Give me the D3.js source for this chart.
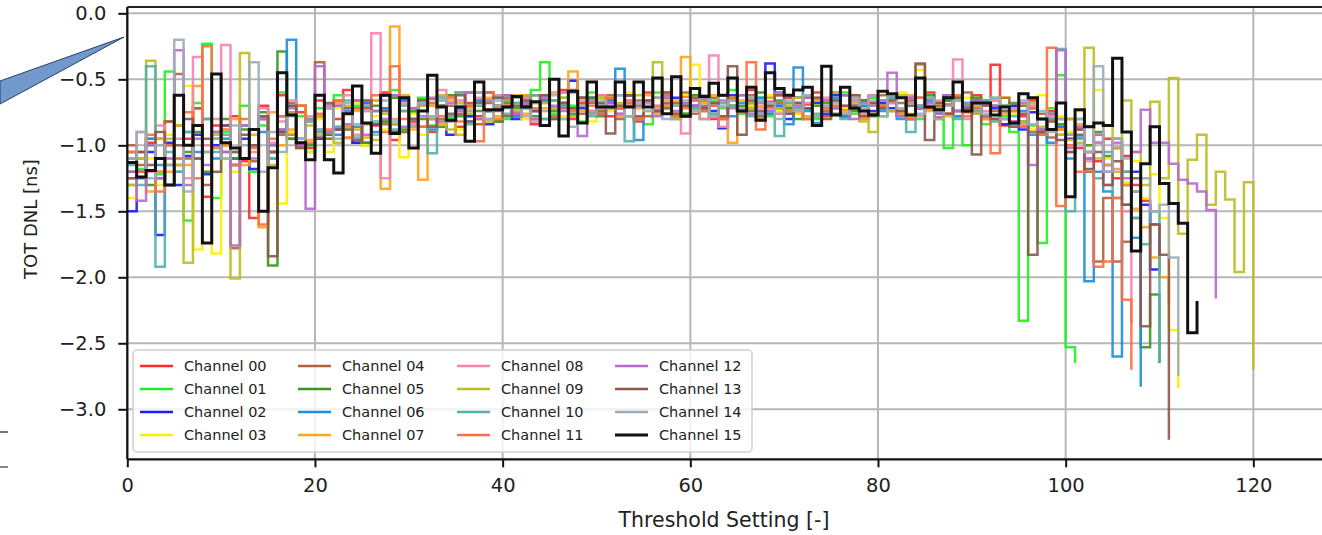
<!DOCTYPE html>
<html>
<head>
<meta charset="utf-8">
<script src="https://cdn.jsdelivr.net/npm/d3@7"></script>
<style>
  html, body { margin: 0; padding: 0; background: #fff; }
  svg { display: block; font-family: "DejaVu Sans", sans-serif; }
</style>
</head>
<body>
<svg id="chart" width="1322" height="535"></svg>
<script>
// TOT DNL per threshold setting, one array per channel (index = threshold setting)
const ch00 = [-1.05,-1.10,-0.98,-1.20,-0.82,-1.15,-0.95,-0.72,-1.39,-0.85,
  -1.00,-0.78,-1.12,-1.55,-0.70,-1.05,-0.62,-0.95,-0.75,-1.02,
  -0.66,-0.92,-0.80,-0.58,-0.98,-0.72,-0.85,-0.60,-0.96,-0.74,
  -0.82,-0.65,-0.90,-0.70,-0.62,-0.86,-0.68,-0.78,-0.60,-0.82,
  -0.70,-0.75,-0.62,-0.84,-0.66,-0.72,-0.58,-0.80,-0.68,-0.74,
  -0.62,-0.78,-0.70,-0.66,-0.82,-0.60,-0.74,-0.68,-0.76,-0.63,
  -0.72,-0.66,-0.80,-0.62,-0.70,-0.75,-0.58,-0.79,-0.67,-0.72,
  -0.64,-0.76,-0.69,-0.60,-0.78,-0.66,-0.73,-0.62,-0.80,-0.68,
  -0.70,-0.63,-0.77,-0.66,-0.72,-0.60,-0.79,-0.69,-0.64,-0.75,
  -0.62,-0.80,-0.39,-0.85,-0.70,-0.78,-0.66,-0.92,-0.74,-0.88,
  -0.80,-1.02,-0.86,-1.12,-0.95,-1.25,-1.08,-1.30,-1.42,-1.60,-1.74];
const ch01 = [-1.30,-1.18,-1.00,-1.22,-0.44,-1.10,-1.57,-0.68,-0.23,-1.40,
  -0.90,-1.05,-0.70,-1.20,-0.85,-1.00,-0.60,-0.92,-0.78,-1.05,
  -0.72,-0.95,-0.62,-0.88,-0.70,-1.00,-0.66,-0.82,-0.58,-0.90,
  -0.75,-0.64,-0.85,-0.70,-0.80,-0.60,-0.78,-0.66,-0.74,-0.62,
  -0.80,-0.68,-0.72,-0.58,-0.37,-0.76,-0.64,-0.70,-0.82,-0.60,
  -0.74,-0.66,-0.78,-0.62,-0.70,-0.84,-0.60,-0.72,-0.68,-0.76,
  -0.62,-0.80,-0.66,-0.72,-0.58,-0.76,-0.70,-0.64,-0.78,-0.60,
  -0.74,-0.68,-0.62,-0.80,-0.66,-0.72,-0.60,-0.76,-0.70,-0.64,
  -0.78,-0.62,-0.74,-0.68,-0.80,-0.64,-0.72,-1.02,-0.66,-1.00,
  -0.70,-0.84,-0.64,-0.78,-0.90,-2.33,-0.85,-1.74,-0.72,-0.47,
  -2.53,-2.65];
const ch02 = [-1.50,-1.20,-1.05,-1.68,-0.98,-1.30,-1.08,-0.92,-1.22,-1.00,
  -0.85,-1.10,-0.95,-1.18,-0.80,-1.05,-0.90,-0.75,-1.00,-0.82,
  -0.95,-0.70,-0.88,-0.76,-0.98,-0.68,-0.84,-0.72,-0.90,-0.66,
  -0.86,-0.70,-0.80,-0.64,-0.92,-0.72,-0.78,-0.60,-0.84,-0.70,
  -0.66,-0.80,-0.70,-0.74,-0.62,-0.78,-0.68,-0.51,-0.72,-0.64,
  -0.76,-0.68,-0.72,-0.62,-0.80,-0.66,-0.74,-0.70,-0.64,-0.78,
  -0.70,-0.66,-0.74,-0.87,-0.62,-0.72,-0.68,-0.76,-0.38,-0.70,
  -0.80,-0.64,-0.72,-0.68,-0.76,-0.62,-0.78,-0.70,-0.66,-0.74,
  -0.68,-0.72,-0.64,-0.80,-0.70,-0.66,-0.76,-0.62,-0.74,-0.70,
  -0.66,-0.78,-0.72,-0.84,-0.70,-0.88,-0.75,-0.92,-0.80,-0.86,
  -0.95,-0.88,-1.05,-0.98,-1.15,-1.02,-1.30,-1.20,-1.45,-1.94,-1.70];
const ch03 = [-1.40,-1.25,-1.10,-1.30,-0.92,-1.15,-0.55,-1.79,-0.80,-1.82,
  -0.95,-1.20,-0.85,-1.05,-0.78,-1.10,-1.44,-0.90,-0.70,-1.05,
  -0.80,-1.05,-0.72,-0.95,-0.68,-1.00,-0.78,-0.88,-0.64,-1.09,
  -0.76,-0.92,-0.70,-0.82,-0.62,-0.88,-0.74,-0.80,-0.66,-0.78,
  -0.70,-0.64,-0.80,-0.68,-0.74,-0.60,-0.78,-0.72,-0.66,-0.82,
  -0.64,-0.74,-0.70,-0.60,-0.80,-0.68,-0.72,-0.66,-0.76,-0.62,
  -0.39,-0.74,-0.68,-0.80,-0.64,-0.72,-0.70,-0.78,-0.62,-0.74,
  -0.68,-0.76,-0.64,-0.70,-0.80,-0.66,-0.72,-0.62,-0.78,-0.70,
  -0.66,-0.74,-0.60,-0.76,-0.43,-0.72,-0.70,-0.66,-0.78,-0.64,
  -0.74,-0.68,-0.80,-0.64,-0.76,-0.70,-0.88,-0.62,-0.82,-0.78,
  -0.90,-0.74,-1.00,-0.58,-1.10,-0.95,-1.28,-1.12,-1.40,-1.22,
  -1.55,-2.40,-2.84];
const ch04 = [-1.00,-1.15,-0.95,-1.25,-0.82,-0.46,-1.10,-0.72,-1.30,-0.90,
  -1.05,-1.78,-0.85,-1.12,-0.78,-1.05,-0.92,-0.68,-1.00,-0.80,
  -0.37,-0.95,-0.70,-0.88,-0.66,-0.98,-0.74,-0.84,-0.62,-0.90,
  -0.72,-0.86,-0.65,-0.80,-0.70,-0.76,-0.60,-0.84,-0.68,-0.74,
  -0.64,-0.78,-0.70,-0.62,-0.80,-0.66,-0.72,-0.58,-0.76,-0.68,
  -0.74,-0.62,-0.80,-0.70,-0.66,-0.78,-0.64,-0.72,-0.68,-0.60,
  -0.76,-0.70,-0.64,-0.80,-0.66,-0.74,-0.62,-0.78,-0.70,-0.68,
  -0.72,-0.64,-0.80,-0.66,-0.74,-0.60,-0.78,-0.70,-0.66,-0.76,
  -0.62,-0.74,-0.68,-0.80,-0.64,-0.72,-0.70,-0.66,-0.78,-0.60,
  -0.76,-0.68,-0.74,-0.64,-0.82,-0.70,-0.90,-0.76,-0.94,-0.80,
  -1.05,-0.88,-1.20,-1.88,-1.40,-1.88,-1.73,-1.55,-1.95];
const ch05 = [-1.20,-1.05,-1.30,-0.95,-1.15,-0.85,-1.05,-0.90,-1.20,-0.95,
  -0.80,-1.10,-0.88,-1.00,-0.75,-1.91,-0.29,-0.95,-0.70,-1.00,
  -0.78,-0.92,-0.66,-0.86,-0.72,-0.98,-0.70,-0.82,-0.64,-0.88,
  -0.74,-0.80,-0.68,-0.86,-0.62,-0.78,-0.70,-0.74,-0.60,-0.82,
  -0.68,-0.72,-0.64,-0.78,-0.66,-0.74,-0.60,-0.76,-0.70,-0.64,
  -0.78,-0.66,-0.72,-0.62,-0.80,-0.68,-0.74,-0.64,-0.70,-0.76,
  -0.62,-0.72,-0.68,-0.78,-0.64,-0.70,-0.74,-0.60,-0.76,-0.66,
  -0.72,-0.80,-0.64,-0.70,-0.68,-0.76,-0.62,-0.74,-0.66,-0.78,
  -0.70,-0.64,-0.76,-0.68,-0.72,-0.62,-0.80,-0.66,-0.74,-0.70,
  -0.64,-0.78,-0.70,-0.74,-0.68,-0.82,-0.72,-0.88,-0.76,-0.84,
  -0.92,-0.80,-1.00,-0.90,-1.08,-0.95,-1.20,-1.35,-2.53,-2.13,-2.65];
const ch06 = [-1.10,-1.25,-0.95,-1.15,-1.00,-1.20,-0.90,-1.05,-0.80,-1.10,
  -0.95,-1.15,-0.85,-1.00,-0.90,-1.10,-0.78,-0.20,-0.95,-0.82,
  -0.88,-0.70,-0.92,-0.74,-0.86,-0.68,-0.90,-0.72,-0.84,-0.66,
  -0.80,-0.70,-0.88,-0.64,-0.78,-0.72,-0.82,-0.66,-0.74,-0.70,
  -0.62,-0.78,-0.68,-0.74,-0.66,-0.80,-0.70,-0.72,-0.64,-0.76,
  -0.70,-0.66,-0.42,-0.78,-0.96,-0.68,-0.74,-0.62,-0.80,-0.70,
  -0.66,-0.74,-0.70,-0.62,-0.78,-0.68,-0.72,-0.64,-0.76,-0.70,
  -0.84,-0.41,-0.74,-0.83,-0.72,-0.64,-0.78,-0.66,-0.70,-0.62,
  -0.74,-0.68,-0.80,-0.64,-0.72,-0.70,-0.76,-0.62,-0.78,-0.68,
  -0.72,-0.66,-0.80,-0.70,-0.84,-0.74,-0.92,-0.80,-0.98,-0.86,
  -1.10,-0.94,-2.03,-1.20,-1.35,-2.60,-1.45,-1.70,-2.83];
const ch07 = [-1.25,-1.10,-1.35,-0.95,-1.20,-0.85,-1.15,-0.55,-1.05,-0.90,
  -1.00,-0.80,-1.15,-0.92,-1.62,-0.75,-1.00,-0.88,-0.70,-0.96,
  -0.78,-0.90,-0.68,-0.86,-0.74,-0.94,-0.66,-1.33,-0.10,-0.62,
  -0.88,-1.26,-0.70,-0.84,-0.66,-0.92,-0.72,-0.80,-0.64,-0.78,
  -0.70,-0.62,-0.76,-0.68,-0.72,-0.60,-0.80,-0.44,-0.74,-0.66,
  -0.70,-0.64,-0.78,-0.68,-0.72,-0.62,-0.76,-0.70,-0.66,-0.33,
  -0.74,-0.68,-0.62,-0.78,-0.98,-0.66,-0.72,-0.70,-0.64,-0.76,
  -0.68,-0.72,-0.62,-0.78,-0.66,-0.70,-0.74,-0.64,-0.80,-0.68,
  -0.72,-0.66,-0.76,-0.62,-0.70,-0.74,-0.68,-0.78,-0.64,-0.72,
  -0.70,-0.80,-0.66,-0.76,-0.72,-0.86,-0.70,-0.92,-0.78,-0.88,
  -0.96,-0.84,-1.05,-0.92,-1.15,-1.02,-1.30,-1.48,-1.62,-1.85,
  -2.00,-2.20];
const ch08 = [-1.05,-0.90,-1.20,-0.85,-1.10,-0.95,-1.25,-0.33,-1.00,-0.80,
  -0.24,-1.15,-0.85,-1.05,-0.72,-0.98,-0.82,-0.66,-0.95,-0.78,
  -0.90,-0.70,-0.86,-0.62,-0.92,-0.74,-0.15,-1.25,-0.80,-0.68,
  -0.84,-0.70,-0.78,-0.58,-0.82,-0.66,-0.74,-0.64,-0.80,-0.62,
  -0.70,-0.76,-0.64,-0.82,-0.68,-0.72,-0.60,-0.78,-0.66,-0.74,
  -0.62,-0.70,-0.76,-0.66,-0.80,-0.68,-0.72,-0.64,-0.78,-0.91,
  -0.66,-0.80,-0.32,-0.86,-0.70,-0.74,-0.64,-0.72,-0.68,-0.76,
  -0.62,-0.74,-0.68,-0.78,-0.64,-0.72,-0.70,-0.66,-0.76,-0.62,
  -0.72,-0.68,-0.74,-0.64,-0.78,-0.70,-0.66,-0.76,-0.35,-0.80,
  -0.68,-0.74,-0.66,-0.80,-0.72,-0.84,-0.70,-0.90,-0.78,-0.92,
  -1.00,-0.86,-1.12,-0.98,-1.30,-1.18,-1.50,-2.35];
const ch09 = [-1.30,-1.10,-0.36,-1.20,-0.95,-1.15,-1.89,-0.85,-1.05,-0.92,
  -1.10,-2.01,-0.30,-1.00,-0.80,-1.15,-0.88,-0.75,-1.02,-0.85,
  -0.92,-0.72,-0.98,-0.70,-0.88,-0.66,-0.96,-0.76,-0.84,-0.64,
  -0.86,-0.70,-0.80,-0.62,-0.88,-0.68,-0.76,-0.60,-0.82,-0.70,
  -0.66,-0.74,-0.62,-0.80,-0.68,-0.72,-0.64,-0.78,-0.70,-0.76,
  -0.64,-0.72,-0.68,-0.78,-0.62,-0.74,-0.37,-0.66,-0.80,-0.70,
  -0.72,-0.66,-0.76,-0.62,-0.70,-0.74,-0.68,-0.80,-0.64,-0.72,
  -0.70,-0.64,-0.78,-0.66,-0.72,-0.60,-0.76,-0.68,-0.82,-0.90,
  -0.66,-0.74,-0.62,-0.78,-0.39,-0.72,-0.68,-0.76,-0.64,-0.70,
  -0.76,-0.66,-0.80,-0.70,-0.74,-0.82,-0.68,-0.86,-0.76,-0.92,
  -0.80,-0.98,-0.26,-1.10,-0.85,-1.20,-0.66,-1.05,-1.30,-0.67,
  -1.25,-0.49,-1.67,-1.11,-0.92,-1.45,-1.20,-1.41,-1.96,-1.28,-2.70];
const ch10 = [-1.15,-1.30,-0.40,-1.92,-1.05,-1.20,-0.90,-1.10,-0.80,-1.05,
  -0.92,-1.15,-0.85,-1.00,-0.78,-1.10,-0.88,-0.70,-0.98,-0.80,
  -0.90,-0.72,-0.86,-0.66,-0.94,-0.70,-0.82,-0.62,-0.88,-0.74,
  -0.80,-0.68,-1.06,-0.66,-0.78,-0.60,-0.84,-0.70,-0.74,-0.64,
  -0.76,-0.68,-0.72,-0.62,-0.80,-0.66,-0.70,-0.74,-0.64,-0.78,
  -0.68,-0.72,-0.62,-0.97,-0.70,-0.66,-0.74,-0.60,-0.78,-0.68,
  -0.72,-0.64,-0.76,-0.68,-0.70,-0.62,-0.78,-0.66,-0.74,-0.93,
  -0.68,-0.72,-0.64,-0.76,-0.70,-0.66,-0.80,-0.62,-0.74,-0.68,
  -0.72,-0.64,-0.78,-0.90,-0.70,-0.66,-0.74,-0.62,-0.80,-0.68,
  -0.74,-0.66,-0.82,-0.70,-0.78,-0.86,-0.72,-0.90,-0.80,-0.27,
  -1.50,-0.95,-1.10,-1.25,-1.05,-1.40,-1.20,-1.55,-1.75,-1.50,-2.64];
const ch11 = [-1.05,-1.20,-0.92,-1.35,-1.00,-1.10,-0.75,-1.25,-0.25,-1.02,
  -0.88,-1.15,-0.80,-1.02,-1.60,-0.95,-0.78,-0.92,-0.70,-0.98,
  -0.76,-0.88,-0.66,-0.94,-0.72,-0.84,-0.62,-0.90,-0.40,-0.80,
  -0.72,-0.86,-0.68,-0.78,-0.64,-0.82,-0.70,-0.97,-0.60,-0.80,
  -0.70,-0.76,-0.66,-0.72,-0.62,-0.78,-0.68,-0.74,-0.64,-0.70,
  -0.76,-0.64,-0.72,-0.68,-0.80,-0.66,-0.70,-0.62,-0.78,-0.72,
  -0.66,-0.74,-0.70,-0.80,-0.64,-0.74,-0.37,-0.88,-0.72,-0.62,
  -0.74,-0.68,-0.80,-0.64,-0.72,-0.70,-0.76,-0.62,-0.78,-0.68,
  -0.70,-0.66,-0.74,-0.80,-0.64,-0.72,-0.68,-0.76,-0.62,-0.78,
  -0.72,-0.68,-1.06,-0.80,-0.74,-0.86,-0.72,-0.92,-0.26,-1.46,
  -1.00,-1.20,-1.10,-1.92,-1.88,-1.40,-2.17,-2.70];
const ch12 = [-1.20,-1.42,-1.00,-1.25,-1.10,-0.28,-1.30,-0.95,-1.15,-0.90,
  -1.05,-1.76,-0.85,-1.10,-0.80,-1.00,-0.88,-0.72,-1.00,-1.48,
  -0.40,-0.90,-0.70,-0.84,-0.66,-0.92,-0.74,-0.80,-0.62,-0.86,
  -0.72,-0.78,-0.64,-0.82,-0.68,-0.74,-0.60,-0.80,-0.66,-0.72,
  -0.62,-0.76,-0.68,-0.80,-0.64,-0.70,-0.74,-0.60,-0.93,-0.66,
  -0.72,-0.68,-0.76,-0.62,-0.70,-0.66,-0.78,-0.64,-0.74,-0.68,
  -0.70,-0.64,-0.78,-0.66,-0.72,-0.62,-0.76,-0.68,-0.74,-0.60,
  -0.76,-0.70,-0.64,-0.78,-0.66,-0.72,-0.62,-0.80,-0.68,-0.70,
  -0.66,-0.45,-0.78,-0.64,-0.72,-0.68,-0.76,-0.62,-0.74,-0.70,
  -0.66,-0.78,-0.70,-0.74,-0.82,-0.68,-1.15,-0.88,-0.76,-0.28,
  -1.02,-0.86,-1.10,-0.92,-1.20,-0.98,-1.25,-1.05,-0.73,-0.98,
  -0.98,-1.14,-1.26,-1.29,-1.35,-1.49,-2.16];
const ch13 = [-1.25,-1.05,-1.15,-0.90,-1.30,-1.00,-0.80,-1.10,-0.95,-1.20,
  -0.85,-1.05,-0.92,-1.00,-0.78,-1.84,-0.90,-0.70,-1.02,-0.82,
  -0.94,-0.68,-0.88,-0.72,-0.96,-0.66,-0.84,-0.74,-0.90,-0.70,
  -0.80,-0.66,-0.86,-0.70,-0.76,-0.62,-0.82,-0.68,-0.74,-0.64,
  -0.78,-0.70,-0.66,-0.74,-0.62,-0.80,-0.68,-0.72,-0.64,-0.76,
  -0.68,-0.91,-0.70,-0.62,-0.78,-0.66,-0.74,-0.60,-0.76,-0.70,
  -0.64,-0.72,-0.68,-0.78,-0.40,-0.92,-0.66,-0.74,-0.70,-0.62,
  -0.76,-0.68,-0.72,-0.64,-0.80,-0.66,-0.70,-0.62,-0.78,-0.68,
  -0.72,-0.66,-0.74,-0.70,-0.38,-0.96,-0.68,-0.76,-0.64,-0.72,
  -1.07,-0.70,-0.80,-0.74,-0.86,-0.76,-1.83,-0.90,-0.82,-0.96,
  -1.05,-0.92,-1.18,-1.05,-1.30,-1.12,-1.45,-1.25,-2.37,-1.60,
  -1.83,-3.23];
const ch14 = [-1.10,-0.90,-1.25,-1.00,-1.15,-0.20,-1.35,-0.85,-1.05,-0.95,
  -1.10,-0.85,-1.00,-0.37,-1.20,-0.90,-1.05,-0.78,-0.95,-0.82,
  -0.88,-0.72,-0.95,-0.68,-0.84,-0.74,-0.92,-0.66,-0.82,-0.70,
  -0.86,-0.68,-0.78,-0.64,-0.82,-0.70,-0.74,-0.60,-0.80,-0.66,
  -0.72,-0.64,-0.78,-0.68,-0.74,-0.62,-0.80,-0.86,-0.70,-0.76,
  -0.66,-0.72,-0.62,-0.78,-0.68,-0.74,-0.64,-0.80,-0.70,-0.66,
  -0.74,-0.62,-0.78,-0.70,-0.66,-0.72,-0.64,-0.76,-0.68,-0.80,
  -0.66,-0.74,-0.62,-0.78,-0.70,-0.68,-0.76,-0.64,-0.72,-0.66,
  -0.78,-0.62,-0.72,-0.68,-0.76,-0.64,-0.80,-0.70,-0.66,-0.74,
  -0.68,-0.76,-0.64,-0.80,-0.72,-0.66,-0.84,-0.74,-0.90,-0.80,
  -0.92,-0.80,-1.05,-0.40,-1.20,-0.95,-1.10,-1.35,-1.25,-1.50,
  -1.45,-1.85,-2.75];
const ch15 = [-1.13,-1.24,-1.19,-1.10,-1.30,-0.62,-1.00,-0.85,-1.74,-0.46,
  -0.98,-1.02,-1.10,-0.88,-1.50,-1.17,-0.45,-0.77,-0.98,-1.11,
  -0.62,-1.11,-1.21,-0.76,-0.55,-0.83,-1.06,-0.62,-0.91,-0.64,
  -1.02,-0.74,-0.47,-0.71,-0.81,-0.71,-0.97,-0.52,-0.73,-0.73,
  -0.71,-0.63,-0.71,-0.67,-0.85,-0.50,-0.93,-0.59,-0.83,-0.52,
  -0.71,-0.71,-0.52,-0.71,-0.52,-0.71,-0.49,-0.76,-0.48,-0.78,
  -0.57,-0.63,-0.53,-0.62,-0.49,-0.74,-0.56,-0.81,-0.45,-0.57,
  -0.62,-0.58,-0.56,-0.85,-0.40,-0.77,-0.56,-0.72,-0.74,-0.77,
  -0.59,-0.61,-0.64,-0.77,-0.49,-0.71,-0.73,-0.64,-0.52,-0.74,
  -0.68,-0.68,-0.77,-0.71,-0.83,-0.61,-0.64,-0.80,-0.88,-0.68,
  -1.39,-0.73,-0.86,-0.83,-0.85,-0.34,-0.90,-1.80,-1.14,-0.86,
  -1.29,-1.44,-1.59,-2.42,-2.18];

const channelValues = [ch00, ch01, ch02, ch03, ch04, ch05, ch06, ch07,
                       ch08, ch09, ch10, ch11, ch12, ch13, ch14, ch15];
const channelNames = ["Channel 00","Channel 01","Channel 02","Channel 03",
                      "Channel 04","Channel 05","Channel 06","Channel 07",
                      "Channel 08","Channel 09","Channel 10","Channel 11",
                      "Channel 12","Channel 13","Channel 14","Channel 15"];
const channelColors = ["#ff2a2a","#22ee22","#1a1aff","#ffee00",
                       "#b0623a","#3c961e","#1e8ee0","#ffa41c",
                       "#f584b4","#bcbd22","#52b3a8","#ff6e3f",
                       "#b868d0","#8c564b","#9cadba","#111111"];
const xTicks = [0, 20, 40, 60, 80, 100, 120];
const yTicks = [0.0, -0.5, -1.0, -1.5, -2.0, -2.5, -3.0];

const svg = d3.select("#chart");
const W = 1322, H = 535;
const plot = { left: 127.3, right: 1327, top: 7, bottom: 459.3 };

svg.append("rect").attr("width", W).attr("height", H).attr("fill", "#fff");

const x = d3.scaleLinear().domain([0, 127.85]).range([plot.left, plot.right]);
const y = d3.scaleLinear().domain([-3.379, 0.048]).range([plot.bottom, plot.top]);

// grid
const grid = svg.append("g");
grid.selectAll("line.gx").data(xTicks).join("line")
  .attr("x1", d => x(d)).attr("x2", d => x(d))
  .attr("y1", plot.top).attr("y2", plot.bottom)
  .attr("stroke", "#b7b7b7").attr("stroke-width", 2);
grid.selectAll("line.gy").data(yTicks).join("line")
  .attr("x1", plot.left).attr("x2", plot.right)
  .attr("y1", d => y(d)).attr("y2", d => y(d))
  .attr("stroke", "#b7b7b7").attr("stroke-width", 2);

// step lines
svg.append("clipPath").attr("id", "plotclip").append("rect")
  .attr("x", plot.left).attr("y", plot.top)
  .attr("width", plot.right - plot.left).attr("height", plot.bottom - plot.top);

const line = d3.line()
  .x((d, i) => x(i))
  .y(d => y(d))
  .curve(d3.curveStepAfter);

svg.append("g").attr("clip-path", "url(#plotclip)")
  .selectAll("path").data(channelValues).join("path")
  .attr("d", d => line(d))
  .attr("fill", "none")
  .attr("stroke", (d, i) => channelColors[i])
  .attr("stroke-width", (d, i) => i === 15 ? 3 : 2.5)
  .attr("stroke-linejoin", "miter")
  .attr("stroke-opacity", (d, i) => i === 15 ? 1 : 0.9);

// axes
const fmt = d3.format(".1f");
const yAxis = svg.append("g")
  .attr("transform", `translate(${plot.left},0)`)
  .call(d3.axisLeft(y).tickValues(yTicks).tickFormat(fmt).tickSize(9).tickPadding(12));
const xAxis = svg.append("g")
  .attr("transform", `translate(0,${plot.bottom})`)
  .call(d3.axisBottom(x).tickValues(xTicks).tickFormat(d3.format("d")).tickSize(8).tickPadding(11));

[yAxis, xAxis].forEach(a => {
  a.select(".domain").remove();
  a.selectAll(".tick line").attr("stroke", "#111").attr("stroke-width", 2);
  a.selectAll(".tick text").attr("fill", "#222")
    .style("font-family", "'DejaVu Sans', sans-serif").style("font-size", "19.5px");
});

// spines
svg.append("line").attr("x1", plot.left).attr("x2", plot.left)
  .attr("y1", plot.top).attr("y2", plot.bottom).attr("stroke", "#111").attr("stroke-width", 2.2);
svg.append("line").attr("x1", plot.left).attr("x2", W)
  .attr("y1", plot.bottom).attr("y2", plot.bottom).attr("stroke", "#111").attr("stroke-width", 2.2);
svg.append("line").attr("x1", plot.left).attr("x2", W)
  .attr("y1", plot.top).attr("y2", plot.top).attr("stroke", "#222").attr("stroke-width", 2.2);

// axis titles
svg.append("text").attr("x", 724).attr("y", 527)
  .attr("text-anchor", "middle").attr("fill", "#222")
  .style("font-size", "20.5px").text("Threshold Setting [-]");
svg.append("text")
  .attr("transform", "translate(37,219) rotate(-90)")
  .attr("text-anchor", "middle").attr("fill", "#222")
  .style("font-size", "18px").text("TOT DNL [ns]");

// legend
const lg = svg.append("g");
lg.append("rect").attr("x", 133).attr("y", 350).attr("width", 619).attr("height", 102)
  .attr("rx", 4).attr("fill", "#fff").attr("fill-opacity", 0.8)
  .attr("stroke", "#d0d0d0").attr("stroke-width", 1.5);
const colX = [140, 298, 457, 615];
const rowY = [366, 389, 412, 435];
channelNames.forEach((name, i) => {
  const cx = colX[Math.floor(i / 4)], cy = rowY[i % 4];
  lg.append("line").attr("x1", cx).attr("x2", cx + 33)
    .attr("y1", cy).attr("y2", cy)
    .attr("stroke", channelColors[i]).attr("stroke-width", i === 15 ? 3 : 2.6);
  lg.append("text").attr("x", cx + 44).attr("y", cy + 5)
    .attr("fill", "#222").style("font-size", "14.5px").text(name);
});

// callout pointer at the left edge
svg.append("polygon")
  .attr("points", "0,81 124,37 0,104")
  .attr("fill", "#7199cc").attr("stroke", "#23406b").attr("stroke-width", 1);

// edge marks at lower left
svg.append("line").attr("x1", 0).attr("x2", 8).attr("y1", 432).attr("y2", 432)
  .attr("stroke", "#777").attr("stroke-width", 2);
svg.append("line").attr("x1", 0).attr("x2", 8).attr("y1", 467).attr("y2", 467)
  .attr("stroke", "#888").attr("stroke-width", 2);
</script>
</body>
</html>
